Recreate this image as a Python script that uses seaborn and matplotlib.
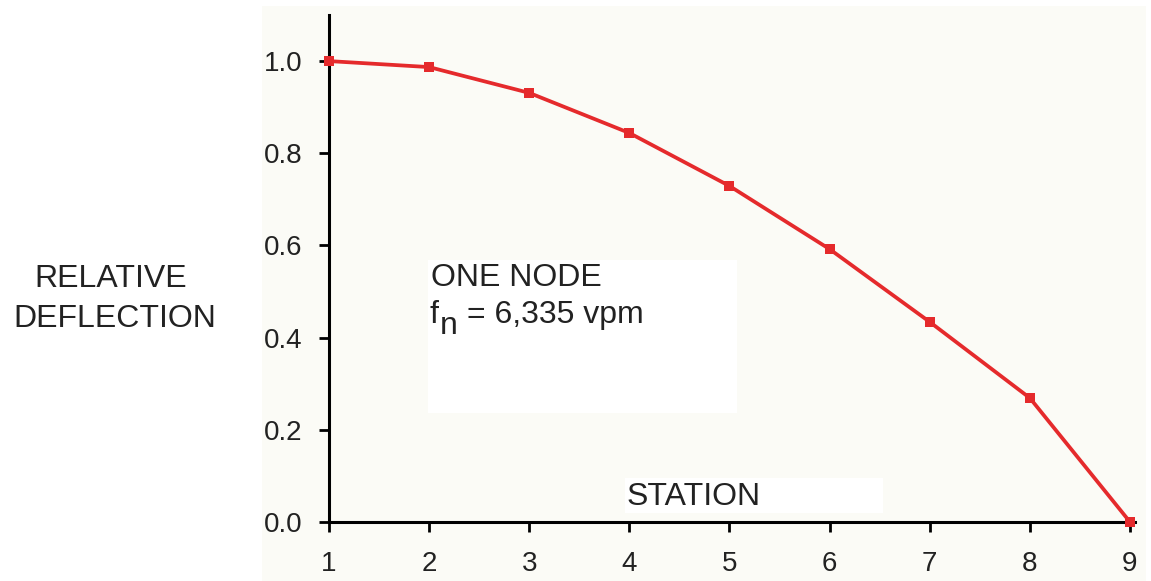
import matplotlib
matplotlib.use("Agg")
import matplotlib.pyplot as plt
from matplotlib.patches import Rectangle
import seaborn as sns
import pandas as pd

# Mode shape: relative deflection at each station
stations = [1, 2, 3, 4, 5, 6, 7, 8, 9]
deflection = [1.0, 0.987, 0.931, 0.844, 0.729, 0.592, 0.434, 0.269, 0.0]
x_ticks = [1, 2, 3, 4, 5, 6, 7, 8, 9]
y_ticks = [0.0, 0.2, 0.4, 0.6, 0.8, 1.0]
y_tick_labels = ["0.0", "0.2", "0.4", "0.6", "0.8", "1.0"]

sns.set_style("ticks")
plt.rcParams["font.family"] = ["Liberation Sans", "DejaVu Sans"]

W, H = 1151, 581
fig = plt.figure(figsize=(W / 100, H / 100), dpi=100)
fig.patch.set_facecolor("white")


def fx(px):
    return px / W


def fy(py):
    return 1 - py / H


# Tinted panel behind the plot and white label boxes
fig.patches.append(Rectangle((fx(262), fy(581)), fx(1146) - fx(262), fy(6) - fy(581),
                             transform=fig.transFigure, facecolor="#fbfbf6",
                             edgecolor="none", zorder=-2))
fig.patches.append(Rectangle((fx(428), fy(413)), fx(737) - fx(428), fy(260) - fy(413),
                             transform=fig.transFigure, facecolor="white",
                             edgecolor="none", zorder=-1))
fig.patches.append(Rectangle((fx(625), fy(513)), fx(883) - fx(625), fy(478) - fy(513),
                             transform=fig.transFigure, facecolor="white",
                             edgecolor="none", zorder=-1))

ax = fig.add_axes([fx(329), fy(522), fx(1135) - fx(329), fy(15) - fy(522)])
ax.set_facecolor("none")
ax.set_zorder(1)

df = pd.DataFrame({"station": stations, "deflection": deflection})
sns.lineplot(data=df, x="station", y="deflection", ax=ax, color="#e52a2c",
             linewidth=2.7, marker="s", markersize=7.5, markeredgewidth=0,
             clip_on=False, zorder=5)

ax.set_xlim(1, 9.05)
ax.set_ylim(0, 1.1)
ax.set_xticks(x_ticks)
ax.set_xticklabels([str(s) for s in x_ticks])
ax.set_yticks(y_ticks)
ax.set_yticklabels(y_tick_labels)
ax.set_xlabel("")
ax.set_ylabel("")

for side in ("top", "right"):
    ax.spines[side].set_visible(False)
for side in ("left", "bottom"):
    ax.spines[side].set_linewidth(2.2)
    ax.spines[side].set_color("black")

ax.tick_params(axis="both", direction="out", length=7, width=2.0, color="black",
               labelsize=20, labelcolor="#222222")
ax.tick_params(axis="y", pad=12)
ax.tick_params(axis="x", pad=14)

txt = dict(color="#222222", fontsize=23)
fig.text(fx(111), fy(287), "RELATIVE", ha="center", va="baseline", **txt)
fig.text(fx(115), fy(327), "DEFLECTION", ha="center", va="baseline", **txt)
fig.text(fx(431), fy(286), "ONE NODE", ha="left", va="baseline", **txt)
fig.text(fx(430), fy(323), "f", ha="left", va="baseline", **txt)
fig.text(fx(440), fy(334), "n", ha="left", va="baseline", **txt)
fig.text(fx(467), fy(323), "= 6,335 vpm", ha="left", va="baseline", **txt)
fig.text(fx(627), fy(505), "STATION", ha="left", va="baseline", **txt)

fig.savefig("out.png", dpi=100)
